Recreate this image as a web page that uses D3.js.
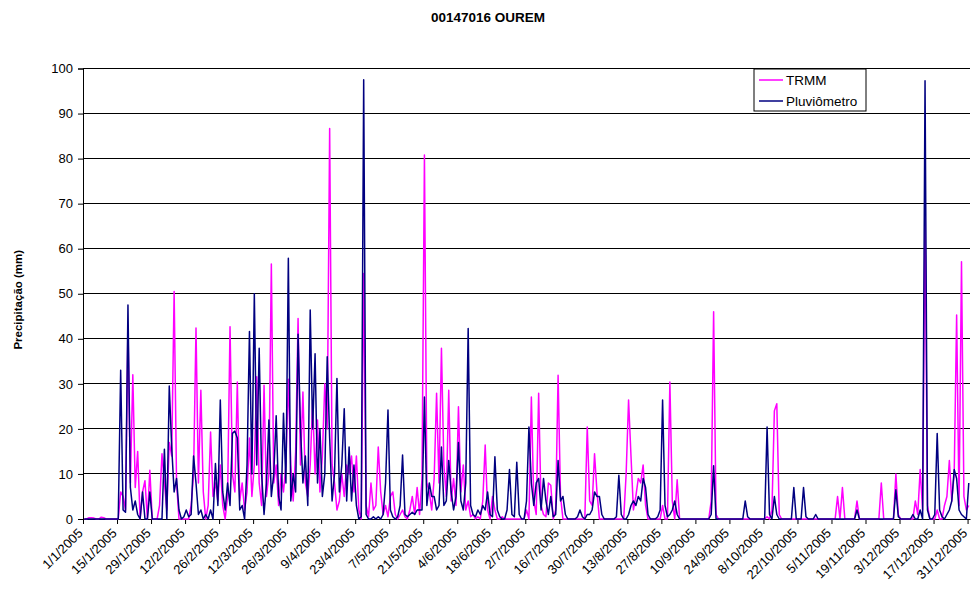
<!DOCTYPE html>
<html>
<head>
<meta charset="utf-8">
<script src="https://cdn.jsdelivr.net/npm/d3@7"></script>
<style>
  body { margin: 0; background: #fff; }
  svg text { font-family: Arial, "Liberation Sans", sans-serif; fill: #000; }
</style>
</head>
<body>
<div id="chart"></div>
<script>
const title = "00147016 OUREM";
const yLabel = "Precipitação (mm)";
const seriesNames = ["TRMM", "Pluviômetro"];
const seriesColors = ["#ff00ff", "#000080"];
const yTicks = [0, 10, 20, 30, 40, 50, 60, 70, 80, 90, 100];
const tickLabels = ["1/1/2005", "15/1/2005", "29/1/2005", "12/2/2005", "26/2/2005", "12/3/2005",
  "26/3/2005", "9/4/2005", "23/4/2005", "7/5/2005", "21/5/2005", "4/6/2005", "18/6/2005",
  "2/7/2005", "16/7/2005", "30/7/2005", "13/8/2005", "27/8/2005", "10/9/2005", "24/9/2005",
  "8/10/2005", "22/10/2005", "5/11/2005", "19/11/2005", "3/12/2005", "17/12/2005", "31/12/2005"];

// daily values, one line per month
const trmm = [
  0,0,0.3,0.3,0.2,0,0,0.4,0.3,0,0,0,0,0,0,6,5,2,43,8,32,7,15,0,6,8.5,0,10.8,0,0,0,
  3,14.5,8,2,17,14,50.5,8,0,0,0,0,0,3,10,42.4,8,28.6,6,0,3,19.3,5,8,4,12,3,0,
  5,42.7,10,6,30.4,4,8,2,6,18,5,12,31.6,8,3,29.7,5,10,56.6,8,12,3,10,6,12,31,12,4,15,44.5,12,
  28.2,8,5,12,26,10,22,6,14,30,20,86.7,12,8,2,4,10,5,12,10,14,6,14,2,0,54.5,3,0.5,8,2,
  3,16,6,1,3,0.5,5,6,1,0,1,2,0.5,0,2,5,1,7,1,9,80.8,8,6,2,9,27.9,8,37.9,12,5,28.6,
  4,9,3,24.9,6,12,2,4,0.5,1,0,0.5,0,4,16.4,2,0,5,2,0,0,0.5,0,0,0,0,0,0,0,0,
  0,2,0,27.1,4,1,27.9,3,1,0.5,8,7.5,0,2,31.9,5,0,0,0,0,0,0,0,0,0,0,20.4,4,3,14.5,6,
  0,0,0,0,0,0,0,0,0,0,0,10,26.4,14,2,5,9,8,12,3,0,0,0,0,0,0,3,0,0,30.4,4,
  0,8.7,0,0,0,0,0,0,0,0,0,0,0,0,0,4,46,1,0,0,0,0,0,0,0,0,0,0,0,0,
  0,0,0,0,0,0,0,0,0.5,0,2,24,25.6,1,0,0,0,0,0,0,0,0,0,0,0,0,0,0,0,0,0,
  0,0,0,0,0,0,5,0,7,0,0,0,0,0,4,0,0,0,0,0,0,0,0,0,8,0,0,0,0,0,
  10,1,0,0,0,0,0,0,4,1,11,2,67.8,3,0,0,0,2,0,0,3,5,13,4,10,45.3,3,57.1,5,2,3
];
const pluviometro = [
  0,0,0,0,0,0,0,0,0,0,0,0,0,0,0,33,2,1.5,47.5,7,2,4,1,0,6,0,0,6,0,0,0,
  0,0,15.5,0,29.5,16,6,9,2,0,0.5,2,0.5,1,14,8,1,2,0,1,0,2,0,12.3,3,26.4,6,2,
  8,3,19,19.5,18,2,3,0,12,41.6,10,50,12,37.9,10,1,8,22,5,10,22.9,5,2,23.5,8,57.9,4,10,6,41,20,
  8,14,3,46.4,20,36.7,8,20,5,10,36,18,4,10,31.2,6,12,24.5,4,16,4,12,3,0,0.5,97.5,1,0,0,0.5,
  0,0.5,0,1,8,24.2,2,0.5,0,0.5,3,14.2,1,0.5,1,1.5,1,2,2,2,27.1,3,8,5,5,2,3,16,3,4,13,
  6,2,5,17,4,2,8,42.3,3,1,0.5,2,1,3,2,6,1,0.5,13.8,2,0.5,0,0,2,11,1,0.5,12.6,1,0,
  0,4,20.4,8,3,8,9,2,9,4,1,5,0.5,1,13,4,5,1,0,0,0,0,0.5,2,0.5,0,1,1,2,6,5,
  5,1,0,0,0,0,0,0.5,9.7,1,0,0,1,3,4,3,5,4,9,7,1,0,0,0,0.5,2,26.4,3,0.5,1,2,
  4,1,0,0,0,0,0,0,0,0,0,0,0,0,0,1,11.8,0,0,0,0,0,0,0,0,0,0,0,0,4,
  0.5,0,0,0,0,0,0,0,20.4,1,0,5,1,0,0,0,0,0,0,7,0,0,0,7,0.5,0,0,0,1,0,0,
  0,0,0,0,0,0,0,0,0,0,0,0,0,0,2,0,0,0,0,0,0,0,0,0,0,0,0,0,0,0,
  6.5,0.5,0,0,0,0,0,1,0,0,2,0,97.3,2,0,0,1,19,2,0.5,0,1,2,4,11,9,2,1,0.5,0,8
];

const width = 971, height = 592;
const margin = {left: 83, right: 970, top: 68.5, bottom: 519};

const svg = d3.select("#chart").append("svg")
    .attr("width", width)
    .attr("height", height)
    .style("background", "#fff");

// date axis with points placed between tick marks
const x = d3.scaleLinear().domain([0, trmm.length]).range([margin.left, margin.right]);
const y = d3.scaleLinear().domain([0, 100]).range([margin.bottom, margin.top]);

// gridlines
svg.append("g")
    .selectAll("line")
    .data(yTicks.slice(1))
    .enter().append("line")
    .attr("x1", margin.left).attr("x2", margin.right)
    .attr("y1", d => y(d)).attr("y2", d => y(d))
    .style("stroke", "#000")
    .style("stroke-width", 1)
    .attr("shape-rendering", "crispEdges");

// y axis
const yAxis = svg.append("g")
    .attr("transform", `translate(${margin.left},0)`)
    .call(d3.axisLeft(y).tickValues(yTicks).tickSize(5).tickPadding(5).tickFormat(d3.format("d")));
yAxis.select(".domain").attr("stroke", "#000");
yAxis.selectAll("text").style("font-size", "13px");

// x axis
const xAxis = svg.append("g")
    .attr("transform", `translate(0,${margin.bottom})`)
    .call(d3.axisBottom(x).tickValues(d3.range(0, trmm.length, 14)).tickSize(5).tickSizeOuter(0)
      .tickFormat((d, i) => tickLabels[i]));
xAxis.select(".domain").attr("stroke", "#000");
xAxis.selectAll("text")
    .attr("x", 0).attr("y", 0).attr("dy", 0)
    .style("text-anchor", "end")
    .style("font-size", "13px")
    .attr("transform", "translate(0,15) rotate(-45)");

// lines
const line = d3.line()
    .x((d, i) => x(i + 0.5))
    .y(d => y(d));

[trmm, pluviometro].forEach((data, k) => {
  svg.append("path")
      .datum(data)
      .attr("d", line)
      .style("fill", "none")
      .style("stroke", seriesColors[k])
      .style("stroke-width", 1.5)
      .style("stroke-linejoin", "round");
});

// title
svg.append("text")
    .attr("x", 488).attr("y", 22)
    .attr("text-anchor", "middle")
    .style("font-size", "13.5px")
    .style("font-weight", "bold")
    .text(title);

svg.append("text")
    .attr("transform", `translate(22,${(margin.top + margin.bottom) / 2 + 6}) rotate(-90)`)
    .attr("text-anchor", "middle")
    .style("font-size", "11.5px")
    .style("font-weight", "bold")
    .text(yLabel);

// legend
const legend = svg.append("g").attr("transform", "translate(754,69)");
legend.append("rect")
    .attr("width", 112).attr("height", 42)
    .style("fill", "#fff")
    .style("stroke", "#000");
seriesNames.forEach((name, k) => {
  const ly = 11 + k * 21;
  legend.append("line")
      .attr("x1", 5).attr("x2", 29)
      .attr("y1", ly).attr("y2", ly)
      .style("stroke", seriesColors[k])
      .style("stroke-width", 1.5);
  legend.append("text")
      .attr("x", 32).attr("y", ly + 5)
      .style("font-size", "13.5px")
      .text(name);
});
</script>
</body>
</html>
